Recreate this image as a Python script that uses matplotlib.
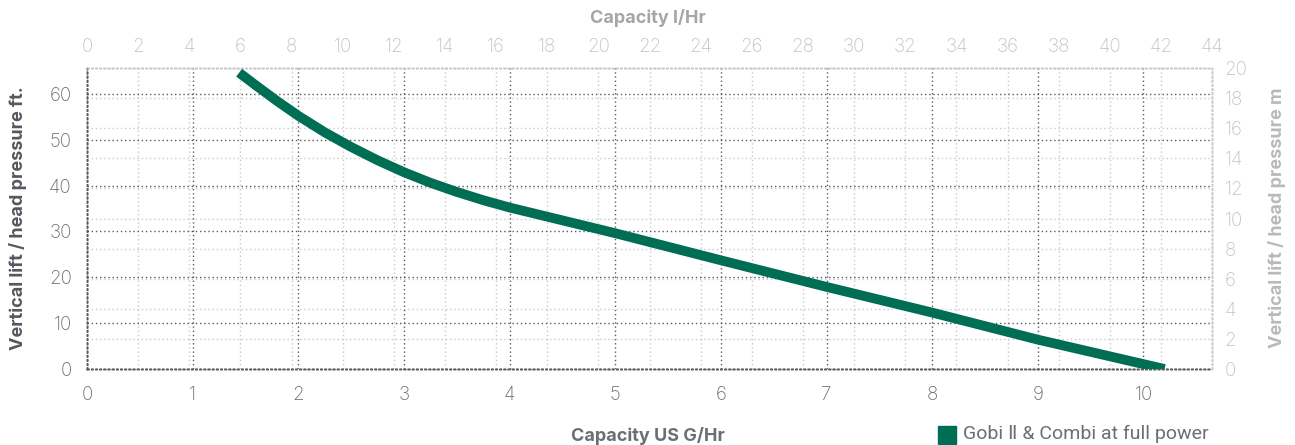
import matplotlib.pyplot as plt
from matplotlib.lines import Line2D

# ============================================
# フォント
# ============================================
plt.rcParams["font.family"] = ["Inter", "DejaVu Sans"]

# ============================================
# データ
# ============================================
flow_gal = [1.44, 1.6, 1.8, 2.0, 2.25, 2.5, 2.75, 3.0, 3.25, 3.5, 3.75,
            4.0, 4.5, 5.0, 6.0, 7.0, 8.0, 9.0, 10.2]
head_ft = [64.6, 61.8, 58.4, 55.2, 51.6, 48.4, 45.5, 42.9, 40.6, 38.6, 36.8,
           35.2, 32.4, 29.6, 23.7, 17.9, 12.3, 6.4, 0.0]

bottom_ticks = list(range(0, 11))
top_ticks = list(range(0, 46, 2))
left_ticks = list(range(0, 61, 10))
right_ticks = list(range(0, 21, 2))

X_MAX_GAL = 10.65
X_MAX_L = 44
Y_MAX_FT = 65.6
Y_MAX_M = 20

SERIES_NAME = "Gobi \u2161 & Combi at full power"
LINE_COLOR = "#006e55"

DARK_GRID = "#5a5a5a"
LIGHT_GRID = "#c9c9c9"
DARK_TEXT = "#6b6e74"
LIGHT_TEXT = "#c4c4c6"

TICK_SIZE = 13.5
LABEL_SIZE = 13

# ============================================
# 図
# ============================================
fig = plt.figure(figsize=(12.95, 4.45), dpi=100)
ax = fig.add_axes([0.0672, 0.1708, 0.8688, 0.6762])
axt = ax.twiny()
axr = ax.twinx()

# 重なり順: 背景(axt) < 薄いグリッド(axr) < 線(ax)
axt.set_zorder(1)
axr.set_zorder(2)
ax.set_zorder(3)
ax.patch.set_visible(False)
axr.patch.set_visible(False)
axt.set_facecolor("#fcfbfc")

# 主軸
ax.set_xlim(0, X_MAX_GAL)
ax.set_ylim(0, Y_MAX_FT)
ax.set_xticks(bottom_ticks)
ax.set_yticks(left_ticks)
ax.grid(True, color=DARK_GRID, linestyle=(0, (1, 2)), linewidth=1.0)
ax.tick_params(length=0, labelsize=TICK_SIZE, labelcolor=DARK_TEXT)
ax.tick_params(axis="x", pad=12)
ax.tick_params(axis="y", pad=11)
for lab in ax.get_xticklabels() + ax.get_yticklabels():
    lab.set_fontweight("light")

# 上軸 l/Hr
axt.set_xlim(0, X_MAX_L)
axt.set_xticks(top_ticks)
axt.grid(True, axis="x", color=LIGHT_GRID, linestyle=(0, (1, 2)), linewidth=1.0)
axt.tick_params(length=0, labelsize=TICK_SIZE, labelcolor=LIGHT_TEXT, pad=9)
for lab in axt.get_xticklabels():
    lab.set_fontweight("light")

# 右軸 m
axr.set_ylim(0, Y_MAX_M)
axr.set_yticks(right_ticks)
axr.grid(True, axis="y", color=LIGHT_GRID, linestyle=(0, (1, 2)), linewidth=1.0)
axr.tick_params(length=0, labelsize=TICK_SIZE, labelcolor=LIGHT_TEXT, pad=9)
for lab in axr.get_yticklabels():
    lab.set_fontweight("light")

for a in (ax, axt, axr):
    for name, sp in a.spines.items():
        sp.set_linestyle((0, (1, 2)))
        sp.set_linewidth(1.0)
        sp.set_color(DARK_GRID if name in ("left", "bottom") else LIGHT_GRID)

# 曲線
ax.plot(flow_gal, head_ft, color=LINE_COLOR, linewidth=7,
        solid_capstyle="butt", solid_joinstyle="round", zorder=5)

# 軸ラベル（位置は図座標で固定）
W, H = 1295, 445
fig.text(648 / W, 1 - 18 / H, "Capacity l/Hr", ha="center", va="center",
         fontsize=LABEL_SIZE, fontweight="bold", color="#a4a6aa")
fig.text(648 / W, 1 - 436 / H, "Capacity US G/Hr", ha="center", va="center",
         fontsize=LABEL_SIZE, fontweight="bold", color=DARK_TEXT)
fig.text(18 / W, 1 - 218 / H, "Vertical lift / head pressure ft.",
         ha="center", va="center", rotation=90,
         fontsize=LABEL_SIZE, fontweight="bold", color="#55585e")
fig.text(1277 / W, 1 - 218 / H, "Vertical lift / head pressure m",
         ha="center", va="center", rotation=90,
         fontsize=LABEL_SIZE, fontweight="bold", color="#b8b9bc")

# 凡例
handle = Line2D([], [], marker="s", linestyle="none", markersize=13,
                color=LINE_COLOR)
leg = fig.legend([handle], [SERIES_NAME], loc="center left",
                 bbox_to_anchor=(0.722, 0.024), frameon=False,
                 handletextpad=0.6, handlelength=1.0, borderaxespad=0)
for t in leg.get_texts():
    t.set_color(DARK_TEXT)
    t.set_fontsize(14)
    t.set_family(["Roboto", "DejaVu Sans"])

fig.savefig("out.png", dpi=100)
